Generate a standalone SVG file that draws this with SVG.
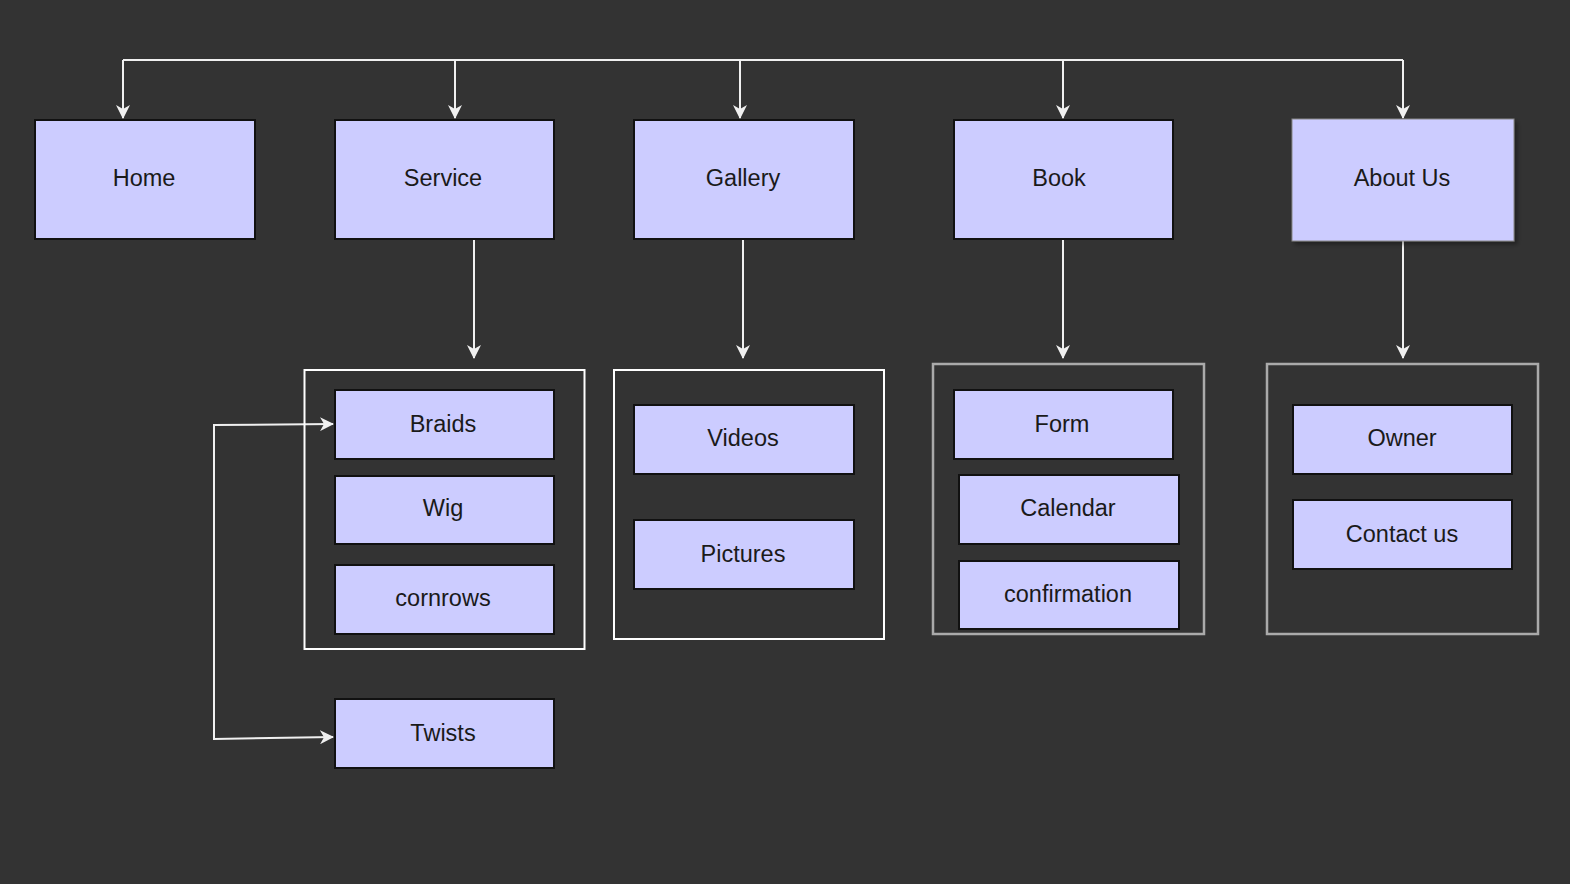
<svg xmlns="http://www.w3.org/2000/svg" width="1570" height="884" viewBox="0 0 1570 884">
<defs>
<marker id="ah" viewBox="0 0 14 14" refX="13" refY="7" markerWidth="14" markerHeight="14" markerUnits="userSpaceOnUse" orient="auto-start-reverse">
<path d="M0,0 L14,7 L0,14 L4,7 Z" fill="#f0f0f0"/>
</marker>
<filter id="sh" x="-5%" y="-5%" width="115%" height="120%">
<feDropShadow dx="3" dy="3" stdDeviation="2" flood-color="#000" flood-opacity="0.35"/>
</filter>
</defs>
<style>
.n{fill:#ccccff;stroke:#111;stroke-width:2}
.ns{fill:#ccccff;stroke:#888;stroke-width:1}
.c{fill:none;stroke:#ffffff;stroke-width:2}
.cg{fill:none;stroke:#aaaaaa;stroke-width:2.5}
.t{font-family:"Liberation Sans",Arial,sans-serif;font-size:23.5px;fill:#1a1a1a;text-anchor:middle;dominant-baseline:central}
.e{fill:none;stroke:#f0f0f0;stroke-width:2}
</style>
<rect width="1570" height="884" fill="#333333"/>
<g id="connectors">
<path class="e" d="M123,60 H1403"/>
<path class="e" d="M123,60 V118" marker-end="url(#ah)"/>
<path class="e" d="M455,60 V118" marker-end="url(#ah)"/>
<path class="e" d="M740,60 V118" marker-end="url(#ah)"/>
<path class="e" d="M1063,60 V118" marker-end="url(#ah)"/>
<path class="e" d="M1403,60 V118" marker-end="url(#ah)"/>
<path class="e" d="M474,239 V358" marker-end="url(#ah)"/>
<path class="e" d="M743,239 V358" marker-end="url(#ah)"/>
<path class="e" d="M1063,239 V358" marker-end="url(#ah)"/>
<path class="e" d="M1403,241 V358" marker-end="url(#ah)"/>
<path class="e" d="M333,424 L214,425 V739 L333,737" marker-start="url(#ah)" marker-end="url(#ah)"/>
</g>
<g id="container-service"><rect class="c" x="304.5" y="370" width="280" height="279"/></g>
<g id="container-gallery"><rect class="c" x="614" y="370" width="270" height="269"/></g>
<g id="container-book"><rect class="cg" x="933" y="364" width="271" height="270"/></g>
<g id="container-about"><rect class="cg" x="1267" y="364" width="271" height="270"/></g>
<g id="home"><rect class="n" x="35" y="120" width="220" height="119"/><text class="t" x="144" y="178">Home</text></g>
<g id="service"><rect class="n" x="335" y="120" width="219" height="119"/><text class="t" x="443" y="178">Service</text></g>
<g id="gallery"><rect class="n" x="634" y="120" width="220" height="119"/><text class="t" x="743" y="178">Gallery</text></g>
<g id="book"><rect class="n" x="954" y="120" width="219" height="119"/><text class="t" x="1059" y="178">Book</text></g>
<g id="about"><rect class="ns" x="1292" y="119" width="222" height="122" filter="url(#sh)"/><text class="t" x="1402" y="178">About Us</text></g>
<g id="braids"><rect class="n" x="335" y="390" width="219" height="69"/><text class="t" x="443" y="424">Braids</text></g>
<g id="wig"><rect class="n" x="335" y="476" width="219" height="68"/><text class="t" x="443" y="508">Wig</text></g>
<g id="cornrows"><rect class="n" x="335" y="565" width="219" height="69"/><text class="t" x="443" y="598">cornrows</text></g>
<g id="twists"><rect class="n" x="335" y="699" width="219" height="69"/><text class="t" x="443" y="733">Twists</text></g>
<g id="videos"><rect class="n" x="634" y="405" width="220" height="69"/><text class="t" x="743" y="438">Videos</text></g>
<g id="pictures"><rect class="n" x="634" y="520" width="220" height="69"/><text class="t" x="743" y="554">Pictures</text></g>
<g id="form"><rect class="n" x="954" y="390" width="219" height="69"/><text class="t" x="1062" y="424">Form</text></g>
<g id="calendar"><rect class="n" x="959" y="475" width="220" height="69"/><text class="t" x="1068" y="508">Calendar</text></g>
<g id="confirmation"><rect class="n" x="959" y="561" width="220" height="68"/><text class="t" x="1068" y="594">confirmation</text></g>
<g id="owner"><rect class="n" x="1293" y="405" width="219" height="69"/><text class="t" x="1402" y="438">Owner</text></g>
<g id="contact"><rect class="n" x="1293" y="500" width="219" height="69"/><text class="t" x="1402" y="534">Contact us</text></g>
</svg>
